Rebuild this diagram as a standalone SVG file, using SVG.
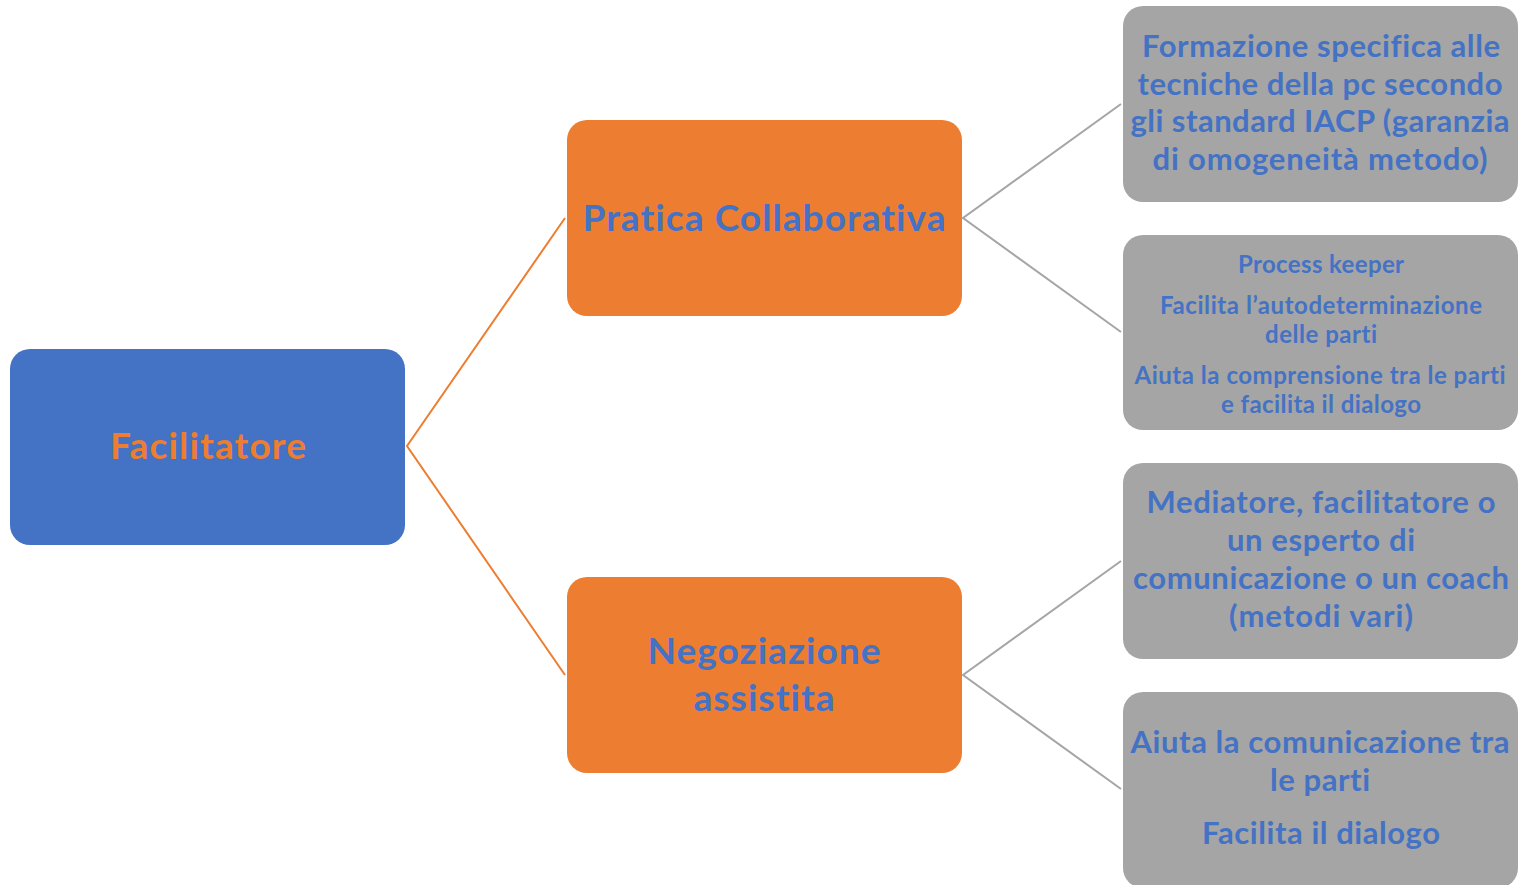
<svg xmlns="http://www.w3.org/2000/svg" width="1524" height="885" viewBox="0 0 1524 885">
<style>
text{font-family:Lato,"Open Sans","Liberation Sans",sans-serif;font-weight:bold;text-anchor:middle;font-variant-ligatures:none;font-feature-settings:"liga" 0}
.root{fill:#4472C4}
.mid{fill:#ED7D31}
.leaf{fill:#A5A5A5}
.tb{fill:#4472C4}
.to{fill:#ED7D31}
.co{stroke:#ED7D31;stroke-width:2;fill:none}
.cg{stroke:#A5A5A5;stroke-width:2;fill:none}
</style>
<rect width="1524" height="885" fill="#fff"/>
<g id="connectors">
<polyline class="co" points="565,218 407,446 565,675"/>
<polyline class="cg" points="1121,104 963,218 1121,332"/>
<polyline class="cg" points="1121,561 963,675 1121,789"/>
</g>
<g id="n-facilitatore">
<rect class="root" x="10" y="349" width="395" height="196" rx="20"/>
<text class="to" x="208" y="459" font-size="37" textLength="196" lengthAdjust="spacing">Facilitatore</text>
</g>
<g id="n-pratica">
<rect class="mid" x="567" y="120" width="395" height="196" rx="20"/>
<text class="tb" x="764" y="231" font-size="37" textLength="363" lengthAdjust="spacing">Pratica Collaborativa</text>
</g>
<g id="n-negoziazione">
<rect class="mid" x="567" y="577" width="395" height="196" rx="20"/>
<text class="tb" x="764" y="664" font-size="37" textLength="233" lengthAdjust="spacing">Negoziazione</text>
<text class="tb" x="764" y="711" font-size="37" textLength="141" lengthAdjust="spacing">assistita</text>
</g>
<g id="n-formazione">
<rect class="leaf" x="1123" y="6" width="395" height="196" rx="20"/>
<text class="tb" font-size="31"><tspan x="1321" y="57" textLength="358" lengthAdjust="spacing">Formazione specifica alle</tspan><tspan x="1320" y="95" textLength="365" lengthAdjust="spacing">tecniche della pc secondo</tspan><tspan x="1320" y="132" textLength="379" lengthAdjust="spacing">gli standard IACP (garanzia</tspan><tspan x="1320" y="170" textLength="335" lengthAdjust="spacing">di omogeneità metodo)</tspan></text>
</g>
<g id="n-process">
<rect class="leaf" x="1123" y="235" width="395" height="195" rx="20"/>
<text class="tb" font-size="24"><tspan x="1321" y="273" textLength="166" lengthAdjust="spacing">Process keeper</tspan><tspan x="1321" y="314" textLength="322" lengthAdjust="spacing">Facilita l’autodeterminazione</tspan><tspan x="1321" y="343" textLength="112" lengthAdjust="spacing">delle parti</tspan><tspan x="1320" y="384" textLength="371" lengthAdjust="spacing">Aiuta la comprensione tra le parti</tspan><tspan x="1321" y="413" textLength="200" lengthAdjust="spacing">e facilita il dialogo</tspan></text>
</g>
<g id="n-mediatore">
<rect class="leaf" x="1123" y="463" width="395" height="196" rx="20"/>
<text class="tb" font-size="31"><tspan x="1321" y="513" textLength="349" lengthAdjust="spacing">Mediatore, facilitatore o</tspan><tspan x="1321" y="551" textLength="188" lengthAdjust="spacing">un esperto di</tspan><tspan x="1321" y="589" textLength="376" lengthAdjust="spacing">comunicazione o un coach</tspan><tspan x="1321" y="627" textLength="184" lengthAdjust="spacing">(metodi vari)</tspan></text>
</g>
<g id="n-aiuta">
<rect class="leaf" x="1123" y="692" width="395" height="196" rx="20"/>
<text class="tb" font-size="31"><tspan x="1320" y="753" textLength="379" lengthAdjust="spacing">Aiuta la comunicazione tra</tspan><tspan x="1320" y="791" textLength="100" lengthAdjust="spacing">le parti</tspan><tspan x="1321" y="844" textLength="238" lengthAdjust="spacing">Facilita il dialogo</tspan></text>
</g>
</svg>
